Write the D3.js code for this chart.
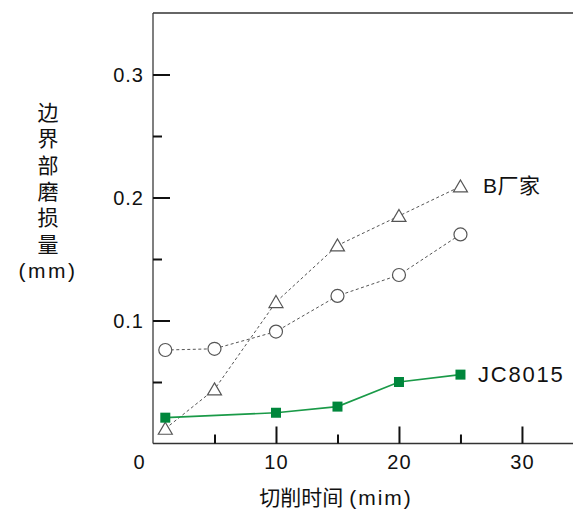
<!DOCTYPE html>
<html><head><meta charset="utf-8">
<script src="https://cdn.jsdelivr.net/npm/d3@7"></script>
<style>
html,body{margin:0;padding:0;background:#fff;}
text{font-family:"Liberation Sans","Noto Sans CJK SC",Arial,sans-serif;fill:#111;}
</style></head>
<body><svg id="c" width="573" height="513"></svg>
<script>
const times = [1, 5, 10, 15, 20, 25];
const seriesB = [0.012, 0.044, 0.115, 0.161, 0.185, 0.209];
const seriesCircle = [0.076, 0.077, 0.091, 0.120, 0.137, 0.170];
const timesJC = [1, 10, 15, 20, 25];
const seriesJC = [0.021, 0.025, 0.030, 0.050, 0.056];
const xTickLabels = [10, 20, 30];
const xMinorTicks = [5, 15, 25];
const yTickLabels = [0.1, 0.2, 0.3];
const yMinorTicks = [0.05, 0.15, 0.25];
const yTitleChars = ["边","界","部","磨","损","量","(mm)"];
const xTitleCJK = "切削时间";
const xTitleUnit = "(mim)";
const labelB = "B厂家";
const labelJC = "JC8015";

const svg = d3.select("#c");
const L = 153, R = 573, T = 13, B = 443.5;
const x = d3.scaleLinear().domain([0, 34.15]).range([L, R]);
const y = d3.scaleLinear().domain([0, 0.35]).range([B, T]);

// frame
svg.append("line").attr("x1",L).attr("x2",L).attr("y1",T).attr("y2",B).attr("stroke","#555").attr("stroke-width",1.5);
svg.append("line").attr("x1",L).attr("x2",R).attr("y1",T).attr("y2",T).attr("stroke","#333").attr("stroke-width",1.5);
svg.append("line").attr("x1",L).attr("x2",R).attr("y1",B).attr("y2",B).attr("stroke","#333").attr("stroke-width",1.5);

// y axis ticks (inward)
const yAx = svg.append("g").attr("transform",`translate(${L},0)`);
yAx.call(d3.axisRight(y).tickValues(yTickLabels).tickSize(17).tickFormat(""));
const yAxm = svg.append("g").attr("transform",`translate(${L},0)`);
yAxm.call(d3.axisRight(y).tickValues(yMinorTicks).tickSize(9).tickFormat(""));
[yAx,yAxm].forEach(g=>{g.select(".domain").remove(); g.selectAll(".tick line").attr("stroke","#111").attr("stroke-width",2);});
svg.selectAll(".ylab").data(yTickLabels).enter().append("text")
  .attr("x",144).attr("y",d=>y(d)+7).attr("text-anchor","end").attr("font-size",20)
  .attr("letter-spacing",1).text(d=>d3.format(".1f")(d));

// x axis ticks (inward)
const xAx = svg.append("g").attr("transform",`translate(0,${B})`);
xAx.call(d3.axisTop(x).tickValues(xTickLabels).tickSize(17).tickFormat(""));
const xAxm = svg.append("g").attr("transform",`translate(0,${B})`);
xAxm.call(d3.axisTop(x).tickValues(xMinorTicks).tickSize(9).tickFormat(""));
[xAx,xAxm].forEach(g=>{g.select(".domain").remove(); g.selectAll(".tick line").attr("stroke","#111").attr("stroke-width",2);});
svg.selectAll(".xlab").data(xTickLabels).enter().append("text")
  .attr("x",d=>x(d)+0.5).attr("y",469).attr("text-anchor","middle").attr("font-size",20)
  .attr("letter-spacing",1).text(d=>d);
svg.append("text").attr("x",139).attr("y",469).attr("text-anchor","middle").attr("font-size",20).text("0");

// titles
svg.selectAll(".yt").data(yTitleChars).enter().append("text")
  .attr("x",48).attr("y",(d,i)=>120+i*26.3).attr("text-anchor","middle").attr("font-size",d=>d.length>1?21:21)
  .attr("letter-spacing",d=>d.length>1?2.5:0)
  .attr("font-family","Noto Sans CJK SC, Liberation Sans, sans-serif").text(d=>d);
const xt = svg.append("text").attr("x",336).attr("y",505).attr("text-anchor","middle").attr("font-size",21)
  .attr("font-family","Noto Sans CJK SC, Liberation Sans, sans-serif");
xt.append("tspan").text(xTitleCJK);
xt.append("tspan").attr("dx",6).attr("letter-spacing",2).text(xTitleUnit);

// lines
const lineGen = (xs)=>d3.line().x((d,i)=>x(xs[i])).y(d=>y(d));
svg.append("path").datum(seriesB).attr("d",lineGen(times)).attr("fill","none")
  .attr("stroke","#555").attr("stroke-width",1).attr("stroke-dasharray","3,2.5");
svg.append("path").datum(seriesCircle).attr("d",lineGen(times)).attr("fill","none")
  .attr("stroke","#555").attr("stroke-width",1).attr("stroke-dasharray","3,2.5");
svg.append("path").datum(seriesJC).attr("d",lineGen(timesJC)).attr("fill","none")
  .attr("stroke","#1a9a48").attr("stroke-width",1.6);

// markers
svg.selectAll(".tri").data(seriesB).enter().append("path")
  .attr("transform",(d,i)=>`translate(${x(times[i])},${y(d)})`)
  .attr("d","M0,-6.5L7,5.5L-7,5.5Z").attr("fill","#fff").attr("stroke","#555").attr("stroke-width",1.2);
svg.selectAll(".cir").data(seriesCircle).enter().append("circle")
  .attr("cx",(d,i)=>x(times[i])).attr("cy",d=>y(d)).attr("r",6.5)
  .attr("fill","#fff").attr("stroke","#555").attr("stroke-width",1.2);
svg.selectAll(".sq").data(seriesJC).enter().append("rect")
  .attr("x",(d,i)=>x(timesJC[i])-5).attr("y",d=>y(d)-5).attr("width",10).attr("height",10)
  .attr("fill","#00873c");

// series labels
svg.append("text").attr("x",483).attr("y",193).attr("font-size",21).attr("letter-spacing",0.5)
  .attr("font-family","Liberation Sans, Noto Sans CJK SC, sans-serif").text(labelB);
svg.append("text").attr("x",478).attr("y",382).attr("font-size",22).attr("letter-spacing",1.8).text(labelJC);
</script></body></html>
